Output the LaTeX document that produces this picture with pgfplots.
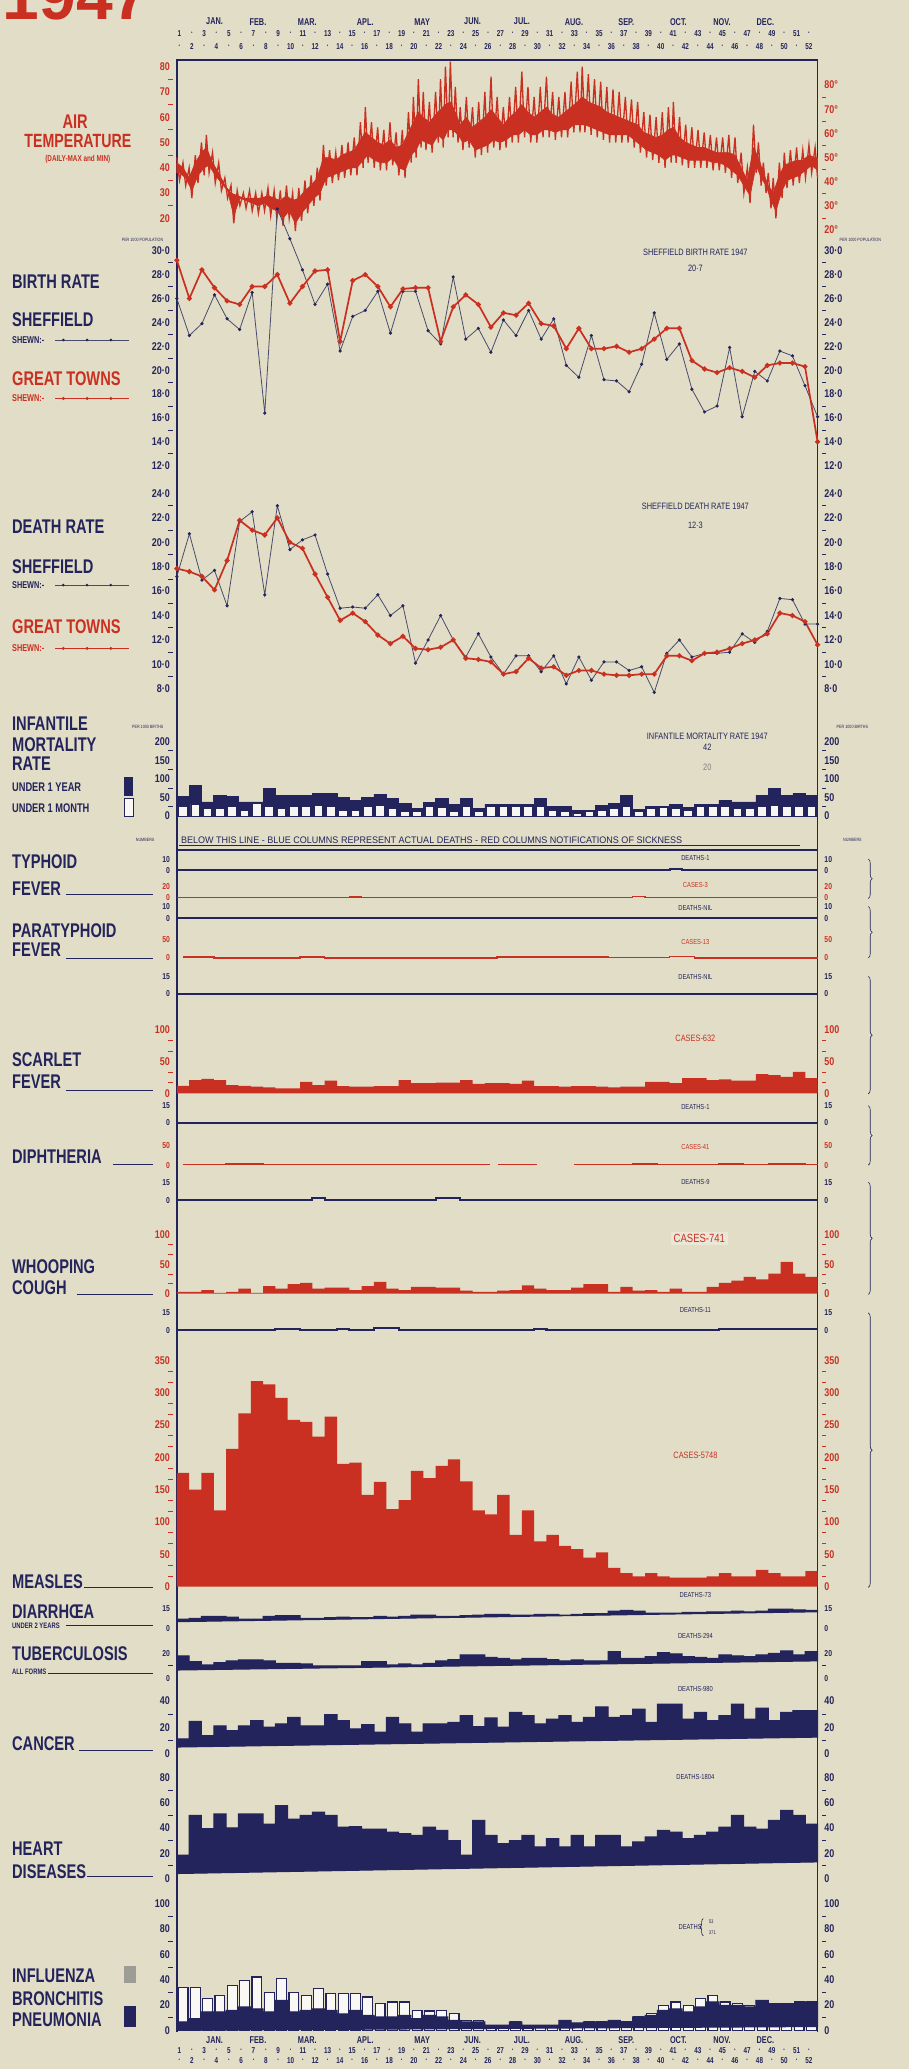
\documentclass[border=0pt]{standalone}
\usepackage{pgfplots}
\pgfplotsset{compat=1.18}
\usepackage{fontspec}
\setmainfont{Liberation Sans}
\newfontfamily\cond{Liberation Sans}[FakeStretch=0.8]
\newfontfamily\condB{Liberation Sans}[FakeStretch=0.74]
\newfontfamily\condw{Liberation Sans}[FakeStretch=0.95]
\usetikzlibrary{decorations.pathreplacing}
\definecolor{paper}{RGB}{225,221,198}
\definecolor{tred}{RGB}{202,48,34}
\definecolor{navy}{RGB}{36,36,92}
\definecolor{sheff}{RGB}{72,74,108}
\newcommand\F[1]{\cond\fontsize{#1}{#1}\selectfont}
\newcommand\FB[1]{\condB\bfseries\fontsize{#1}{#1}\selectfont}
\pgfplotsset{
  P/.style={scale only axis, width=485.6pt, xmin=0, xmax=52,
    axis line style={draw=none}, xtick=\empty, clip=false,
    ytick pos=left, tick align=outside, major tick length=0pt,
    minor tick length=3.5pt,
    every minor tick/.append style={xshift=-3pt, line width=0.6pt},
    yticklabel style={font=\F{8.5}\bfseries, inner sep=1pt, xshift=-4pt},
    /pgf/number format/assume math mode=true},
  R/.style={P, ytick pos=right, yticklabel pos=right,
    every minor tick/.append style={xshift=6pt},
    yticklabel style={xshift=8pt}},
  navyt/.style={yticklabel style={text=navy}, tick style={navy}},
  redt/.style={yticklabel style={text=tred}, tick style={tred}},
  sm/.style={yticklabel style={font=\F{6.5}\bfseries}},
  Y/.style={xshift=134pt, yshift=#1pt},
}
\newcommand\RT[5]{\begin{axis}[R,#5,Y=#1,height=#2pt,ymin=#3,ymax=#4]\end{axis}}
\begin{document}
\begin{tikzpicture}[x=1pt,y=1pt]
\fill[paper] (0,0) rectangle (689,1568);
\tikzset{lab/.style={anchor=west, inner sep=0pt, text=navy, font=\FB{15}},
         ann/.style={inner sep=0pt, text=navy, font=\F{7}}}
% ---------- frame ----------
\draw[navy, line width=1.1pt] (134,28) -- (134,1522.5) -- (619.6,1522.5) -- (619.6,28);
\draw[navy, line width=1.4pt] (134,924) -- (619.6,924);
\draw[navy, line width=0.5pt] (136,927.5) -- (606,927.5);
% ---------- header / footer ----------
\node[anchor=base west, inner sep=0pt, text=tred, font=\bfseries\fontsize{50}{50}\selectfont] at (2,1553) {1947};
\foreach \m/\xx in {JAN./162.6,FEB./195.5,MAR./232.9,APL./276.8,MAY/319.9,JUN./358.1,JUL./395.5,AUG./435,SEP./474.6,OCT./514.1,NOV./547.1,DEC./580}{
  \node[inner sep=0pt, text=navy, font=\FB{7.5}] at (\xx,1551.6) {\m};
  \node[inner sep=0pt, text=navy, font=\FB{7.5}] at (\xx,22) {\m};}
\foreach \n in {1,3,...,51}{
  \node[inner sep=0pt, text=navy, font=\FB{6.5}] at ({136+9.353*(\n-1)},1542.7) {\n};
  \node[inner sep=0pt, text=navy, font=\F{4}] at ({136+9.353*(\n-1)},1532.6) {•};
  \node[inner sep=0pt, text=navy, font=\FB{6.5}] at ({136+9.353*(\n-1)},14) {\n};
  \node[inner sep=0pt, text=navy, font=\F{4}] at ({136+9.353*(\n-1)},6.5) {•};}
\foreach \n in {2,4,...,52}{
  \node[inner sep=0pt, text=navy, font=\F{4}] at ({136+9.353*(\n-1)},1542.7) {•};
  \node[inner sep=0pt, text=navy, font=\FB{6.5}] at ({136+9.353*(\n-1)},1532.6) {\n};
  \node[inner sep=0pt, text=navy, font=\F{4}] at ({136+9.353*(\n-1)},14) {•};
  \node[inner sep=0pt, text=navy, font=\FB{6.5}] at ({136+9.353*(\n-1)},6.5) {\n};}
% ---------- left labels ----------
\node[inner sep=0pt, text=tred, font=\FB{15}] at (57,1476) {AIR};
\node[inner sep=0pt, text=tred, font=\FB{14.5}] at (59,1461) {TEMPERATURE};
\node[inner sep=0pt, text=tred, font=\FB{6.5}] at (59,1447) {(DAILY-MAX and MIN)};
\node[inner sep=0pt, text=navy, font=\F{3.5}] at (108,1386) {PER 1000 POPULATION};
\node[inner sep=0pt, text=navy, font=\F{3.5}] at (652,1386) {PER 1000 POPULATION};
\node[lab] at (9,1354.5) {BIRTH RATE};
\node[lab] at (9,1325.5) {SHEFFIELD};
\node[lab, font=\FB{7.5}] at (9,1310.3) {SHEWN:-};
\draw[sheff, line width=0.7pt] (42,1310.3) -- (98,1310.3);
\foreach \xx in {48,66,84}{\fill[navy] (\xx,1310.3) circle (1.1pt);}
\node[lab, text=tred] at (9,1281.2) {GREAT TOWNS};
\node[lab, text=tred, font=\FB{7.5}] at (9,1266) {SHEWN:-};
\draw[tred, line width=1.2pt] (42,1266) -- (98,1266);
\foreach \xx in {48,66,84}{\fill[tred] (\xx,1266) circle (1.3pt);}
\node[lab] at (9,1168.8) {DEATH RATE};
\node[lab] at (9,1138.4) {SHEFFIELD};
\node[lab, font=\FB{7.5}] at (9,1124.6) {SHEWN:-};
\draw[sheff, line width=0.7pt] (42,1124.6) -- (98,1124.6);
\foreach \xx in {48,66,84}{\fill[navy] (\xx,1124.6) circle (1.1pt);}
\node[lab, text=tred] at (9,1093.1) {GREAT TOWNS};
\node[lab, text=tred, font=\FB{7.5}] at (9,1076.6) {SHEWN:-};
\draw[tred, line width=1.2pt] (42,1076.6) -- (98,1076.6);
\foreach \xx in {48,66,84}{\fill[tred] (\xx,1076.6) circle (1.3pt);}
\node[lab] at (9,1019.7) {INFANTILE};
\node[lab] at (9,1003.3) {MORTALITY};
\node[lab] at (9,989.4) {RATE};
\node[lab, font=\FB{9.5}] at (9,971.7) {UNDER 1 YEAR};
\node[lab, font=\FB{9.5}] at (9,955.3) {UNDER 1 MONTH};
\fill[navy] (94,965) rectangle (101,979);
\draw[navy, fill=white!80!paper, line width=0.6pt] (94,949) rectangle (101,963);
\node[inner sep=0pt, text=navy, font=\F{3.5}] at (112,1017) {PER 1000 BIRTHS};
\node[inner sep=0pt, text=navy, font=\F{3.5}] at (646,1017) {PER 1000 BIRTHS};
\node[inner sep=0pt, text=navy, font=\F{3.5}] at (110,931.3) {NUMBERS};
\node[inner sep=0pt, text=navy, font=\F{3.5}] at (646,931.3) {NUMBERS};
\node[anchor=west, inner sep=0pt, text=navy, font=\condw\fontsize{7.2}{7.2}\selectfont] at (137,931.3) {BELOW THIS LINE - BLUE COLUMNS REPRESENT ACTUAL DEATHS - RED COLUMNS NOTIFICATIONS OF SICKNESS};
\node[lab] at (9,914.9) {TYPHOID};
\node[lab] at (9,894.7) {FEVER};
\draw[navy, line width=0.4pt] (50,890) -- (116,890);
\node[lab] at (9,863) {PARATYPHOID};
\node[lab] at (9,848) {FEVER};
\draw[navy, line width=0.4pt] (50,842) -- (116,842);
\node[lab] at (9,764.6) {SCARLET};
\node[lab] at (9,748) {FEVER};
\draw[navy, line width=0.4pt] (50,742) -- (116,742);
\node[lab] at (9,691.3) {DIPHTHERIA};
\draw[navy, line width=0.4pt] (86,686) -- (116,686);
\node[lab] at (9,608) {WHOOPING};
\node[lab] at (9,592) {COUGH};
\draw[navy, line width=0.4pt] (58,587) -- (116,587);
\node[lab] at (9,369) {MEASLES};
\draw[navy, line width=0.4pt] (64,365.4) -- (116,365.4);
\node[lab] at (9,346.4) {DIARRHŒA};
\node[lab, font=\FB{6}] at (9,336) {UNDER 2 YEARS};
\draw[navy, line width=0.4pt] (50,336.5) -- (116,336.5);
\node[lab] at (9,314.8) {TUBERCULOSIS};
\node[lab, font=\FB{6}] at (9,301) {ALL FORMS};
\draw[navy, line width=0.4pt] (36,299.6) -- (116,299.6);
\node[lab] at (9,246.6) {CANCER};
\draw[navy, line width=0.4pt] (60,241.6) -- (116,241.6);
\node[lab] at (9,167) {HEART};
\node[lab] at (9,149.6) {DISEASES};
\draw[navy, line width=0.4pt] (66,145.7) -- (116,145.7);
\node[lab] at (9,71) {INFLUENZA};
\node[lab] at (9,53.3) {BRONCHITIS};
\node[lab] at (9,37) {PNEUMONIA};
\fill[gray!70!paper] (94,65) rectangle (103,78);
\fill[navy] (94,32) rectangle (103,48);
% ---------- annotations ----------
\node[ann] at (527,1376.5) {SHEFFIELD BIRTH RATE 1947};
\node[ann] at (527,1364.6) {20·7};
\node[ann] at (527,1184) {SHEFFIELD DEATH RATE 1947};
\node[ann] at (527,1170) {12·3};
\node[ann] at (536,1009.6) {INFANTILE MORTALITY RATE 1947};
\node[ann] at (536,1002) {42};
\node[ann, text=gray] at (536,986.2) {20};
\node[ann, font=\F{5.5}] at (527,917.7) {DEATHS-1};
\node[ann, font=\F{5.5}, text=tred] at (527,897.2) {CASES-3};
\node[ann, font=\F{5.5}] at (527,879.5) {DEATHS-NIL};
\node[ann, font=\F{5.5}, text=tred] at (527,854.2) {CASES-13};
\node[ann, font=\F{5.5}] at (527,827.7) {DEATHS-NIL};
\node[ann, font=\F{7}, text=tred] at (527,781) {CASES-632};
\node[ann, font=\F{5.5}] at (527,729.1) {DEATHS-1};
\node[ann, font=\F{5.5}, text=tred] at (527,698.8) {CASES-41};
\node[ann, font=\F{5.5}] at (527,672.3) {DEATHS-9};
\node[ann, font=\F{9}, text=tred, fill=white!30!paper, inner sep=2pt] at (530,629.3) {CASES-741};
\node[ann, font=\F{5.5}] at (527,575.1) {DEATHS-11};
\node[ann, font=\F{7}, text=tred] at (527,465.1) {CASES-5748};
\node[ann, font=\F{5.5}] at (527,358.9) {DEATHS-73};
\node[ann, font=\F{5.5}] at (527,328.1) {DEATHS-294};
\node[ann, font=\F{5.5}] at (527,287.7) {DEATHS-980};
\node[ann, font=\F{5.5}] at (527,221.3) {DEATHS-1804};
\node[ann, font=\F{5.5}, anchor=east] at (532,107.6) {DEATHS};
\draw[navy, line width=0.5pt, decorate, decoration={brace, amplitude=2.5pt}] (533,101) -- (533,114);
\node[ann, font=\F{4}, anchor=west] at (537,111.5) {53};
\node[ann, font=\F{4}, anchor=west] at (537,103.5) {371};
% ---------- right braces ----------
\foreach \a/\b in {917/887,881/842,828/739,730/685,672/587,573/365}{
  \draw[navy, line width=0.45pt, decorate, decoration={brace, amplitude=3pt}] (658,\a) -- (658,\b);}
% ================= PANELS =================
% Temperature
\begin{axis}[P, redt, Y=1402.5, height=115pt, ymin=20, ymax=80, ytick={20,30,...,80}, minor y tick num=1]
\addplot[fill=tred, draw=tred, line width=0.5pt, line join=round] coordinates {(0,42)(0.5,40)(1,36)(1.5,42)(2,46)(2.4,48)(2.9,42)(3.4,38)(3.9,33)(4.4,30)(4.9,29)(5.4,28)(5.9,28)(6.4,28)(6.9,28)(7.4,29)(7.9,28)(8.4,27)(8.9,29)(9.4,27)(9.9,28)(10.4,31)(10.9,33)(11.4,36)(11.9,44)(12.4,44)(12.9,43)(13.4,45)(13.9,46)(14.4,47)(14.9,51)(15.3,54)(15.8,52)(16.3,50)(16.8,49)(17.3,51)(17.8,48)(18.3,49)(18.8,54)(19.2,58)(19.6,62)(20,60)(20.5,58)(21,61)(21.4,63)(21.8,65)(22.2,66)(22.6,62)(23,57)(23.5,60)(24,56)(24.5,58)(25,60)(25.5,63)(26,60)(26.5,57)(27,60)(27.5,62)(28,65)(28.5,62)(29,60)(29.5,62)(30,64)(30.5,61)(31,60)(31.5,62)(32,64)(32.5,66)(32.9,68)(33.4,66)(33.9,65)(34.4,64)(34.9,62)(35.4,61)(35.9,60)(36.4,59)(36.9,58)(37.4,57)(37.9,54)(38.4,53)(38.9,52)(39.4,53)(39.9,55)(40.3,56)(40.8,52)(41.3,50)(41.8,49)(42.3,48)(42.8,48)(43.3,47)(43.8,46)(44.3,46)(44.8,46)(45.3,45)(45.8,40)(46.3,35)(46.8,48)(47.2,44)(47.6,38)(48,33)(48.4,30)(48.9,37)(49.3,41)(49.8,42)(50.3,43)(50.8,43)(51.3,45)(51.8,44)(52,44)(52,39)(51.52,41)(51.02,39)(50.52,37)(50.02,36)(49.52,35)(49.12,31)(48.62,23)(48.22,27)(47.82,33)(47.42,36)(47.02,41)(46.52,29)(46.02,33)(45.52,37)(45.02,39)(44.52,41)(44.02,42)(43.52,42)(43.02,43)(42.52,43)(42.02,43)(41.52,43)(41.02,44)(40.52,45)(40.12,45)(39.62,43)(39.12,45)(38.62,46)(38.12,47)(37.62,49)(37.12,51)(36.62,53)(36.12,53)(35.62,53)(35.12,53)(34.62,54)(34.12,55)(33.62,56)(33.12,57)(32.72,57)(32.22,57)(31.72,55)(31.22,55)(30.72,54)(30.22,55)(29.72,55)(29.22,53)(28.72,53)(28.22,55)(27.72,53)(27.22,53)(26.72,51)(26.22,50)(25.72,51)(25.22,49)(24.72,48)(24.22,47)(23.72,51)(23.22,50)(22.82,53)(22.42,55)(22.02,55)(21.62,51)(21.22,53)(20.72,49)(20.22,50)(19.82,51)(19.42,47)(19.02,45)(18.52,39)(18.02,40)(17.52,44)(17.02,42)(16.52,42)(16.02,43)(15.52,45)(15.12,43)(14.62,40)(14.12,40)(13.62,39)(13.12,38)(12.62,37)(12.12,36)(11.62,30)(11.12,28)(10.62,25)(10.12,22)(9.62,18)(9.12,23)(8.62,20)(8.12,23)(7.62,24)(7.12,26)(6.62,25)(6.12,26)(5.62,27)(5.12,28)(4.62,21)(4.12,31)(3.62,34)(3.12,37)(2.62,41)(2.22,40)(1.72,37)(1.22,31)(0.72,36)(0.22,38)(0,38)} -- cycle;
\addplot[tred, line width=1.0pt, line join=miter] coordinates {(0,44)(0.22,35)(0.5,42)(0.72,33)(1,40)(1.22,28)(1.5,45)(1.72,34)(2,50)(2.22,37)(2.4,53)(2.62,38)(2.9,46)(3.12,34)(3.4,42)(3.62,31)(3.9,36)(4.12,28)(4.4,33)(4.62,18)(4.9,31)(5.12,25)(5.4,30)(5.62,24)(5.9,31)(6.12,23)(6.4,30)(6.62,22)(6.9,30)(7.12,23)(7.4,32)(7.62,21)(7.9,31)(8.12,20)(8.4,31)(8.62,17)(8.9,33)(9.12,20)(9.4,30)(9.62,15)(9.9,32)(10.12,19)(10.4,35)(10.62,22)(10.9,37)(11.12,25)(11.4,40)(11.62,27)(11.9,49)(12.12,33)(12.4,47)(12.62,34)(12.9,46)(13.12,35)(13.4,49)(13.62,36)(13.9,50)(14.12,37)(14.4,52)(14.62,37)(14.9,58)(15.12,40)(15.3,64)(15.52,42)(15.8,58)(16.02,40)(16.3,56)(16.52,39)(16.8,55)(17.02,39)(17.3,58)(17.52,41)(17.8,54)(18.02,37)(18.3,55)(18.52,36)(18.8,62)(19.02,42)(19.2,68)(19.42,44)(19.6,75)(19.82,48)(20,70)(20.22,47)(20.5,66)(20.72,46)(21,70)(21.22,50)(21.4,75)(21.62,48)(21.8,80)(22.02,52)(22.2,82)(22.42,52)(22.6,72)(22.82,50)(23,64)(23.22,47)(23.5,68)(23.72,48)(24,64)(24.22,44)(24.5,66)(24.72,45)(25,70)(25.22,46)(25.5,76)(25.72,48)(26,68)(26.22,47)(26.5,64)(26.72,48)(27,68)(27.22,50)(27.5,72)(27.72,50)(28,78)(28.22,52)(28.5,72)(28.72,50)(29,68)(29.22,50)(29.5,72)(29.72,52)(30,76)(30.22,52)(30.5,70)(30.72,51)(31,68)(31.22,52)(31.5,70)(31.72,52)(32,74)(32.22,54)(32.5,78)(32.72,54)(32.9,80)(33.12,54)(33.4,77)(33.62,53)(33.9,75)(34.12,52)(34.4,74)(34.62,51)(34.9,72)(35.12,50)(35.4,71)(35.62,50)(35.9,70)(36.12,50)(36.4,68)(36.62,50)(36.9,67)(37.12,48)(37.4,66)(37.62,46)(37.9,62)(38.12,44)(38.4,61)(38.62,43)(38.9,60)(39.12,42)(39.4,62)(39.62,40)(39.9,64)(40.12,42)(40.3,66)(40.52,42)(40.8,60)(41.02,41)(41.3,57)(41.52,40)(41.8,56)(42.02,40)(42.3,55)(42.52,40)(42.8,54)(43.02,40)(43.3,53)(43.52,39)(43.8,52)(44.02,39)(44.3,52)(44.52,38)(44.8,53)(45.02,36)(45.3,52)(45.52,34)(45.8,46)(46.02,30)(46.3,40)(46.52,26)(46.8,57)(47.02,38)(47.2,50)(47.42,33)(47.6,42)(47.82,30)(48,38)(48.22,24)(48.4,36)(48.62,20)(48.9,42)(49.12,28)(49.3,46)(49.52,32)(49.8,47)(50.02,33)(50.3,48)(50.52,34)(50.8,47)(51.02,36)(51.3,49)(51.52,38)(51.8,48)(52,36)};
\end{axis}
\RT{1393.6}{110}{20}{80}{redt, ytick={20,30,...,80}, yticklabels={20°,30°,40°,50°,60°,70°,80°}, minor y tick num=1}
% Birth rate
\begin{axis}[P, navyt, Y=1215, height=163pt, xmin=1, xmax=52, ymin=12, ymax=30, ytick={12,14,...,30}, yticklabels={12·0,14·0,16·0,18·0,20·0,22·0,24·0,26·0,28·0,30·0}, minor y tick num=1]
\addplot[sheff, line width=0.6pt, mark=*, mark size=0.9pt, mark options={fill=navy, draw=navy}] coordinates {(1,26.0)(2,22.9)(3,23.9)(4,26.3)(5,24.3)(6,23.4)(7,26.5)(8,16.4)(9,33.5)(10,31.0)(11,28.4)(12,25.5)(13,27.2)(14,21.6)(15,24.5)(16,25.0)(17,26.6)(18,23.1)(19,26.6)(20,26.6)(21,23.3)(22,22.2)(23,27.8)(24,22.6)(25,23.5)(26,21.5)(27,24.2)(28,22.9)(29,25.0)(30,22.6)(31,24.3)(32,20.4)(33,19.4)(34,22.9)(35,19.2)(36,19.1)(37,18.2)(38,20.5)(39,24.8)(40,20.9)(41,22.2)(42,18.4)(43,16.5)(44,17.0)(45,21.9)(46,16.1)(47,19.9)(48,19.1)(49,21.6)(50,21.2)(51,18.7)(52,16.1)};
\addplot[tred, line width=1.3pt, mark=*, mark size=1.2pt] coordinates {(1,29.2)(2,26.0)(3,28.4)(4,26.9)(5,25.8)(6,25.5)(7,27.0)(8,27.0)(9,28.0)(10,25.6)(11,27.0)(12,28.3)(13,28.4)(14,22.4)(15,27.5)(16,28.0)(17,27.0)(18,25.3)(19,26.8)(20,26.9)(21,26.9)(22,22.4)(23,25.3)(24,26.3)(25,25.5)(26,23.6)(27,24.8)(28,24.6)(29,25.6)(30,23.9)(31,23.7)(32,21.8)(33,23.5)(34,21.8)(35,21.8)(36,22.0)(37,21.5)(38,21.8)(39,22.6)(40,23.5)(41,23.5)(42,20.8)(43,20.1)(44,19.8)(45,20.2)(46,19.9)(47,19.4)(48,20.4)(49,20.6)(50,20.6)(51,20.3)(52,14.0)};
\end{axis}
\RT{1215}{163}{12}{30}{navyt, ytick={12,14,...,30}, yticklabels={12·0,14·0,16·0,18·0,20·0,22·0,24·0,26·0,28·0,30·0}, minor y tick num=1}
% Death rate
\begin{axis}[P, navyt, Y=1046, height=148pt, xmin=1, xmax=52, ymin=8, ymax=24, ytick={8,10,...,24}, yticklabels={8·0,10·0,12·0,14·0,16·0,18·0,20·0,22·0,24·0}, minor y tick num=1]
\addplot[sheff, line width=0.6pt, mark=*, mark size=0.9pt, mark options={fill=navy, draw=navy}] coordinates {(1,17.2)(2,20.7)(3,16.9)(4,17.7)(5,14.8)(6,21.7)(7,22.5)(8,15.7)(9,23.0)(10,19.4)(11,20.2)(12,20.6)(13,17.4)(14,14.6)(15,14.7)(16,14.6)(17,15.7)(18,14.0)(19,14.8)(20,10.1)(21,12.0)(22,14.0)(23,12.0)(24,10.6)(25,12.5)(26,10.6)(27,9.2)(28,10.7)(29,10.7)(30,9.4)(31,10.7)(32,8.4)(33,10.6)(34,8.7)(35,10.2)(36,10.2)(37,9.5)(38,9.8)(39,7.7)(40,10.9)(41,12.0)(42,10.6)(43,10.9)(44,10.9)(45,11.0)(46,12.5)(47,11.8)(48,12.7)(49,15.4)(50,15.3)(51,13.3)(52,13.3)};
\addplot[tred, line width=1.3pt, mark=*, mark size=1.2pt] coordinates {(1,17.85)(2,17.6)(3,17.2)(4,16.1)(5,18.5)(6,21.8)(7,21.0)(8,20.6)(9,22.0)(10,20.0)(11,19.5)(12,17.4)(13,15.5)(14,13.6)(15,14.2)(16,13.5)(17,12.4)(18,11.7)(19,12.3)(20,11.3)(21,11.2)(22,11.4)(23,12.0)(24,10.5)(25,10.4)(26,10.2)(27,9.2)(28,9.4)(29,10.5)(30,9.7)(31,9.8)(32,9.1)(33,9.5)(34,9.5)(35,9.2)(36,9.1)(37,9.1)(38,9.2)(39,9.2)(40,10.7)(41,10.7)(42,10.3)(43,10.9)(44,11.0)(45,11.3)(46,11.7)(47,12.0)(48,12.5)(49,14.2)(50,14.0)(51,13.5)(52,11.6)};
\end{axis}
\RT{1046}{148}{8}{24}{navyt, ytick={8,10,...,24}, yticklabels={8·0,10·0,12·0,14·0,16·0,18·0,20·0,22·0,24·0}, minor y tick num=1}
% Infantile mortality
\begin{axis}[P, navyt, Y=949.5, height=56.5pt, ymin=0, ymax=200, ytick={0,50,...,200}, minor y tick num=1]
\addplot[const plot, fill=navy, draw=navy, line width=0.5pt] coordinates {(0,0)(0,52)(1,83)(2,38)(3,56)(4,52)(5,38)(6,38)(7,74)(8,56)(9,56)(10,56)(11,60)(12,60)(13,50)(14,41)(15,50)(16,59)(17,47)(18,34)(19,20)(20,36)(21,47)(22,32)(23,47)(24,20)(25,32)(26,32)(27,32)(28,32)(29,47)(30,27)(31,25)(32,16)(33,16)(34,29)(35,34)(36,56)(37,18)(38,27)(39,25)(40,32)(41,23)(42,32)(43,32)(44,43)(45,38)(46,38)(47,56)(48,74)(49,56)(50,60)(51,56)(52,56)(52,0)} -- cycle;
\addplot[ybar, bar width=0.7, bar shift=0pt, fill=white!75!paper, draw=navy, line width=0.7pt] coordinates {(0.5,25)(1.5,32)(2.5,20.5)(3.5,20.5)(4.5,25)(5.5,16)(6.5,34)(7.5,25)(8.5,20.5)(9.5,25)(10.5,25)(11.5,29.5)(12.5,25)(13.5,16)(14.5,16)(15.5,25)(16.5,29.5)(17.5,20.5)(18.5,11.6)(19.5,11.6)(20.5,25)(21.5,23)(22.5,11.6)(23.5,25)(24.5,11.6)(25.5,27)(26.5,27)(27.5,27)(28.5,27)(29.5,25)(30.5,16)(31.5,11.6)(32.5,7)(33.5,11.6)(34.5,16)(35.5,20.5)(36.5,25)(37.5,11.6)(38.5,20.5)(39.5,23)(40.5,20.5)(41.5,14)(42.5,25)(43.5,25)(44.5,25)(45.5,20.5)(46.5,20.5)(47.5,27)(48.5,29.5)(49.5,25)(50.5,25)(51.5,25)};
\end{axis}
\RT{949.5}{56.5}{0}{200}{navyt, ytick={0,50,...,200}, minor y tick num=1}
% Typhoid deaths / cases
\begin{axis}[P, navyt, sm, Y=908.5, height=8pt, ymin=0, ymax=10, ytick={0,10}]
\addplot[navy, line width=1.6pt, const plot] coordinates {(0,0)(40,1)(41,0)(52,0)};
\end{axis}
\RT{908.5}{8}{0}{10}{navyt, sm, ytick={0,10}}
\begin{axis}[P, redt, sm, Y=888, height=8pt, ymin=0, ymax=20, ytick={0,20}]
\addplot[tred, line width=1pt, const plot] coordinates {(0,0)(14,0.5)(15,0)(37,1)(38,0)(52,0)};
\end{axis}
\RT{888}{8}{0}{20}{redt, sm, ytick={0,20}}
% Paratyphoid
\begin{axis}[P, navyt, sm, Y=872, height=9pt, ymin=0, ymax=10, ytick={0,10}]
\addplot[navy, line width=1.6pt, const plot] coordinates {(0,0)(52,0)};
\end{axis}
\RT{872}{9}{0}{10}{navyt, sm, ytick={0,10}}
\begin{axis}[P, redt, sm, Y=842, height=14pt, ymin=0, ymax=50, ytick={0,50}]
\addplot[tred, line width=1.1pt, const plot] coordinates {(0.5,2)(3,0)(10,2)(12,0)(26,2)(35,0.5)(40,4)(42,0)(52,0)};
\end{axis}
\RT{842}{14}{0}{50}{redt, sm, ytick={0,50}}
% Scarlet fever
\begin{axis}[P, navyt, sm, Y=815, height=13pt, ymin=0, ymax=15, ytick={0,15}]
\addplot[navy, line width=1.6pt, const plot] coordinates {(0,0)(52,0)};
\end{axis}
\RT{815}{13}{0}{15}{navyt, sm, ytick={0,15}}
\begin{axis}[P, redt, Y=739.4, height=47.9pt, ymin=0, ymax=100, ytick={0,50,100}, minor y tick num=2]
\addplot[const plot, fill=tred, draw=none] coordinates {(0,0)(0,12)(1,21)(2,23)(3,21)(4,13)(5,12)(6,10.5)(7,9.5)(8,8)(9,8)(10,18)(11,13)(12,20)(13,11.5)(14,10.5)(15,10.5)(16,11.5)(17,11.5)(18,21)(19,16)(20,16)(21,17)(22,17)(23,21)(24,15)(25,16)(26,16)(27,15)(28,20)(29,11.5)(30,11.5)(31,10.5)(32,11.5)(33,11.5)(34,10.5)(35,9.5)(36,10.5)(37,10.5)(38,18)(39,18)(40,16)(41,24)(42,24)(43,21)(44,22)(45,20)(46,20)(47,30.5)(48,29)(49,26)(50,34)(51,24)(52,24)(52,0)} -- cycle;
\end{axis}
\RT{739.4}{47.9}{0}{100}{redt, ytick={0,50,100}, minor y tick num=2}
% Diphtheria
\begin{axis}[P, navyt, sm, Y=717, height=13pt, ymin=0, ymax=15, ytick={0,15}]
\addplot[navy, line width=1.6pt, const plot] coordinates {(0,0)(52,0)};
\end{axis}
\RT{717}{13}{0}{15}{navyt, sm, ytick={0,15}}
\begin{axis}[P, redt, sm, Y=685, height=15pt, ymin=0, ymax=50, ytick={0,50}]
\addplot[tred, line width=1.1pt, const plot] coordinates {(0.5,1)(4,3)(7,1)(16,2)(18,1)(25.4,1)};
\addplot[tred, line width=1.1pt, const plot] coordinates {(26.1,1)(29.2,1)};
\addplot[tred, line width=1.1pt, const plot] coordinates {(32.2,1)(37,2.5)(39,1)(44,3)(46,1)(48,3)(51,1.5)(52,1.5)};
\end{axis}
\RT{685}{15}{0}{50}{redt, sm, ytick={0,50}}
% Whooping cough
\begin{axis}[P, navyt, sm, Y=658.4, height=13.6pt, ymin=0, ymax=15, ytick={0,15}]
\addplot[navy, line width=1.6pt, const plot] coordinates {(0,0)(11,1.5)(12,0)(21,1.5)(23,0)(52,0)};
\end{axis}
\RT{658.4}{13.6}{0}{15}{navyt, sm, ytick={0,15}}
\begin{axis}[P, redt, Y=587.7, height=44.3pt, ymin=0, ymax=100, ytick={0,50,100}, minor y tick num=2]
\addplot[const plot, fill=tred, draw=none] coordinates {(0,0)(0,3)(1,3)(2,6)(3,1)(4,3)(5,8.5)(6,1)(7,12.5)(8,8.5)(9,16)(10,18)(11,8.5)(12,10)(13,10)(14,6)(15,12.5)(16,20)(17,8.5)(18,6)(19,11.5)(20,11.5)(21,10)(22,10)(23,5)(24,3)(25,3)(26,5)(27,6)(28,14)(29,8.5)(30,6)(31,6)(32,10)(33,16)(34,16)(35,3)(36,11.5)(37,5)(38,6)(39,3)(40,8.5)(41,3)(42,3)(43,11.5)(44,18)(45,22)(46,28.5)(47,24)(48,34)(49,54)(50,34)(51,28.5)(52,28.5)(52,0)} -- cycle;
\end{axis}
\RT{587.7}{44.3}{0}{100}{redt, ytick={0,50,100}, minor y tick num=2}
% Measles
\begin{axis}[P, navyt, sm, Y=560, height=13pt, ymin=0, ymax=15, ytick={0,15}]
\addplot[navy, line width=1.6pt, const plot] coordinates {(0,0)(8,1)(10,0)(13,1)(14,0)(16,2)(18,0)(29,1)(30,0)(44,1)(52,1)};
\end{axis}
\RT{560}{13}{0}{15}{navyt, sm, ytick={0,15}}
\begin{axis}[P, redt, Y=365.5, height=171.5pt, ymin=0, ymax=350, ytick={0,50,...,350}, minor y tick num=2]
\addplot[const plot, fill=tred, draw=none] coordinates {(0,0)(0,176)(1,150)(2,176)(3,118)(4,213)(5,268)(6,318)(7,313)(8,292)(9,258)(10,255)(11,232)(12,263)(13,190)(14,192)(15,142)(16,162)(17,120)(18,134)(19,179)(20,168)(21,187)(22,197)(23,163)(24,118)(25,112)(26,142)(27,80)(28,118)(29,70)(30,80)(31,63)(32,58)(33,45)(34,53)(35,29)(36,21)(37,16)(38,21)(39,16)(40,14)(41,14)(42,14)(43,16)(44,21)(45,16)(46,16)(47,26)(48,21)(49,16)(50,16)(51,24)(52,24)(52,0)} -- cycle;
\end{axis}
\RT{365.5}{171.5}{0}{350}{redt, ytick={0,50,...,350}, minor y tick num=2}
% Diarrhoea
\begin{axis}[P, navyt, sm, Y=334, height=15pt, ymin=0, ymax=15, ytick={0,15}]
\addplot[const plot, fill=navy, draw=navy, line width=0.8pt] coordinates {(0,5)(0,7)(1,7.5)(2,9)(3,9)(4,8.5)(5,7)(6,7)(7,9)(8,9.5)(9,9.5)(10,7.5)(11,7.5)(12,8)(13,8.5)(14,8)(15,8)(16,9)(17,8.5)(18,9)(19,10)(20,10)(21,9)(22,9)(23,9.5)(24,10)(25,10.5)(26,10.5)(27,10)(28,10)(29,10.5)(30,10.5)(31,10)(32,10.5)(33,11)(34,11)(35,13)(36,13.5)(37,13)(38,11.5)(39,11.5)(40,11.5)(41,12)(42,12)(43,12.5)(44,12.5)(45,13)(46,12.5)(47,13)(48,14.5)(49,14.5)(50,14)(51,13.5)(52,13.5)(52,12.5)} -- cycle;
\end{axis}
\RT{334}{15}{0}{15}{navyt, sm, ytick={0,15}}
% Tuberculosis
\begin{axis}[P, navyt, sm, Y=296, height=19pt, ymin=0, ymax=20, ytick={0,20}, minor y tick num=1]
\addplot[const plot, fill=navy, draw=navy, line width=0.8pt] coordinates {(0,6.7)(0,18)(1,13.3)(2,10.7)(3,12.5)(4,14)(5,14.7)(6,14.7)(7,14)(8,12)(9,12)(10,11.5)(11,10)(12,10)(13,10)(14,10)(15,13.3)(16,13.3)(17,10.7)(18,11.5)(19,10.7)(20,12)(21,14)(22,15)(23,18.7)(24,18.7)(25,16.8)(26,16)(27,14.7)(28,16)(29,16)(30,15)(31,14)(32,14.7)(33,14)(34,14)(35,21.3)(36,16)(37,16)(38,17.3)(39,20.5)(40,19.5)(41,17.3)(42,16.8)(43,16)(44,18.7)(45,17.9)(46,17.3)(47,18.7)(48,20)(49,22)(50,18.7)(51,21.3)(52,21.3)(52,14)} -- cycle;
\end{axis}
\RT{296}{19}{0}{20}{navyt, sm, ytick={0,20}, minor y tick num=1}
% Cancer
\begin{axis}[P, navyt, Y=239, height=40pt, ymin=0, ymax=40, ytick={0,20,40}, minor y tick num=1]
\addplot[const plot, fill=navy, draw=navy, line width=0.8pt] coordinates {(0,5)(0,11.2)(1,24.5)(2,13.7)(3,21)(4,17.5)(5,21)(6,25)(7,20)(8,22.5)(9,27.5)(10,21)(11,21)(12,29.5)(13,25)(14,18.7)(15,22)(16,16.2)(17,27.5)(18,22.5)(19,16.2)(20,22.5)(21,22.5)(22,23.7)(23,28.7)(24,20.5)(25,27)(26,20)(27,31.2)(28,28.7)(29,22.5)(30,26.2)(31,28.7)(32,23.7)(33,27.5)(34,35.5)(35,27.5)(36,28.7)(37,33.7)(38,23.7)(39,37.5)(40,37.5)(41,26.2)(42,31.2)(43,25)(44,28.7)(45,37.5)(46,26.2)(47,34.5)(48,25)(49,31.2)(50,32.5)(51,32.5)(52,32.5)(52,12.5)} -- cycle;
\end{axis}
\RT{239}{40}{0}{40}{navyt, ytick={0,20,40}, minor y tick num=1}
% Heart diseases
\begin{axis}[P, navyt, Y=144.4, height=76.6pt, ymin=0, ymax=80, ytick={0,20,...,80}, minor y tick num=1]
\addplot[const plot, fill=navy, draw=navy, line width=0.8pt] coordinates {(0,3.9)(0,18.4)(1,49.9)(2,39.4)(3,51)(4,40)(5,51)(6,51)(7,43)(8,57.7)(9,47)(10,50)(11,52.5)(12,50)(13,40.7)(14,41)(15,39)(16,39)(17,36.7)(18,35.4)(19,34)(20,40.7)(21,38)(22,30)(23,18.4)(24,46)(25,34)(26,27.6)(27,30)(28,34)(29,25)(30,31.5)(31,25)(32,34)(33,25)(34,34)(35,34)(36,25)(37,28.9)(38,32.8)(39,38)(40,36.7)(41,31.5)(42,34)(43,36.7)(44,40.7)(45,50)(46,40.7)(47,39)(48,46)(49,53.8)(50,50)(51,43)(52,43)(52,13.1)} -- cycle;
\end{axis}
\RT{144.4}{76.6}{0}{80}{navyt, ytick={0,20,...,80}, minor y tick num=1}
% Influenza, bronchitis, pneumonia
\begin{axis}[P, navyt, Y=29.3, height=96.1pt, ymin=0, ymax=100, ytick={0,20,...,100}, minor y tick num=1]
\addplot[ybar, bar width=0.8, bar shift=0pt, fill=white!80!paper, draw=navy, line width=0.9pt] coordinates {(0.5,34)(1.5,34)(2.5,25)(3.5,27.6)(4.5,35.5)(5.5,39.5)(6.5,42)(7.5,30)(8.5,40.8)(9.5,30)(10.5,27.6)(11.5,33)(12.5,29)(13.5,29)(14.5,29)(15.5,26.3)(16.5,21)(17.5,22.4)(18.5,22.4)(19.5,15.8)(20.5,15.3)(21.5,15.8)(22.5,13)(23.5,7.9)(24.5,7.9)(25.5,4)(26.5,4)(27.5,6.6)(28.5,4)(29.5,4)(30.5,4)(31.5,7.9)(32.5,5.5)(33.5,6.6)(34.5,6.6)(35.5,7.9)(36.5,6.6)(37.5,10.5)(38.5,13)(39.5,19.7)(40.5,22.4)(41.5,19.7)(42.5,25)(43.5,27.6)(44.5,22.4)(45.5,21)(46.5,19.7)(47.5,23.7)(48.5,21)(49.5,21)(50.5,22.4)(51.5,22.4)};
\addplot[const plot, fill=navy, draw=navy, line width=0.8pt] coordinates {(0,0)(0,6.6)(1,9.2)(2,14.5)(3,14.5)(4,15.8)(5,18.4)(6,17)(7,14.5)(8,23.7)(9,14.5)(10,15.8)(11,17)(12,15.8)(13,13)(14,15.8)(15,11.8)(16,10.5)(17,10.5)(18,11.8)(19,9.2)(20,11.8)(21,10.5)(22,7.9)(23,6.6)(24,6.6)(25,4)(26,4)(27,6.6)(28,4)(29,4)(30,4)(31,7.9)(32,5.8)(33,6.6)(34,6.6)(35,7.9)(36,6.6)(37,10.5)(38,11.8)(39,15.8)(40,17)(41,14.5)(42,18.4)(43,22.4)(44,19.7)(45,19.7)(46,18.4)(47,23.7)(48,21)(49,21)(50,21)(51,22.4)(52,22.4)(52,3)} -- cycle;
\end{axis}
\RT{29.3}{96.1}{0}{100}{navyt, ytick={0,20,...,100}, minor y tick num=1}
\pgfresetboundingbox
\path[use as bounding box] (0,0) rectangle (689,1568);
\end{tikzpicture}
\end{document}
